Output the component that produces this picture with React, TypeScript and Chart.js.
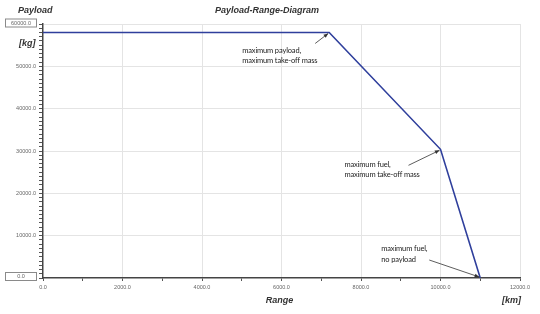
import React, { useEffect, useRef } from "react";
import { Chart, registerables } from "chart.js";

Chart.register(...registerables);

// Data
const rangeKm = [0, 7200, 10000, 11000];
const payloadKg = [58000, 58000, 30400, 0];

const xTickStep = 1000;
const xLabelStep = 2000;
const yTickStep = 1000;
const yLabelStep = 10000;
const xMax = 12000;
const yMax = 60000;

const chartTitle = "Payload-Range-Diagram";
const yTitle = "Payload";
const yUnit = "[kg]";
const xTitle = "Range";
const xUnit = "[km]";

const annotationTexts = [
  ["maximum payload,", "maximum take-off mass"],
  ["maximum fuel,", "maximum take-off mass"],
  ["maximum fuel,", "no payload"],
];
// index of the data point each annotation points to
const annotationPoints = [1, 2, 3];

// layout of the annotations relative to the anchor point (pixels)
const annotationLayout = [
  { tx: -87, ty: 18, ax: -14, ay: 11 },
  { tx: -96, ty: 15, ax: -32, ay: 16 },
  { tx: -99, ty: -29, ax: -51, ay: -18 },
];

const overlayPlugin = {
  id: "overlay",
  afterDraw(chart: any) {
    const { ctx, chartArea, scales } = chart;
    const xs = scales.x;
    const ys = scales.y;
    ctx.save();
    // titles
    ctx.fillStyle = "#333";
    ctx.font = "bold italic 9px 'Liberation Sans', Arial, sans-serif";
    ctx.textBaseline = "middle";
    ctx.textAlign = "left";
    ctx.fillText(yTitle, 18, 10.5);
    ctx.fillText(yUnit, 19, 43.5);
    ctx.textAlign = "center";
    ctx.fillText(chartTitle, 267, 11);
    ctx.fillText(xTitle, (chartArea.left + chartArea.right) / 2 - 2, 300.5);
    ctx.textAlign = "right";
    ctx.fillText(xUnit, chartArea.right + 1, 300.5);

    // boxed end labels on the y axis
    const boxes = [yMax, 0];
    ctx.font = "5.5px 'Liberation Sans', Arial, sans-serif";
    boxes.forEach((v, i) => {
      const py = ys.getPixelForValue(v) + (i === 0 ? -1.5 : -2);
      ctx.fillStyle = "#fff";
      ctx.fillRect(5.5, py - 3.5, 31, 8);
      ctx.strokeStyle = "#8a8a8a";
      ctx.lineWidth = 1;
      ctx.strokeRect(5.5, py - 3.5, 31, 8);
      ctx.fillStyle = "#666";
      ctx.textAlign = "center";
      ctx.fillText(v.toFixed(1), 21, py + 0.5);
    });

    // annotations
    ctx.font = "7.5px Lato, 'Open Sans', sans-serif";
    try {
      (ctx as any).letterSpacing = "-0.15px";
    } catch (e) {}
    annotationTexts.forEach((lines, i) => {
      const idx = annotationPoints[i];
      const px = xs.getPixelForValue(rangeKm[idx]);
      const py = ys.getPixelForValue(payloadKg[idx]);
      const L = annotationLayout[i];
      ctx.fillStyle = "#222";
      ctx.textAlign = "left";
      ctx.textBaseline = "middle";
      lines.forEach((t, j) => ctx.fillText(t, px + L.tx, py + L.ty + j * 10.5));
      // arrow
      const sx = px + L.ax;
      const sy = py + L.ay;
      const ex = px - 1;
      const ey = py + (L.ay > 0 ? 1 : -1);
      ctx.strokeStyle = "#333";
      ctx.lineWidth = 0.8;
      ctx.beginPath();
      ctx.moveTo(sx, sy);
      ctx.lineTo(ex, ey);
      ctx.stroke();
      const ang = Math.atan2(ey - sy, ex - sx);
      const hl = 5;
      const hw = 0.4;
      ctx.fillStyle = "#333";
      ctx.beginPath();
      ctx.moveTo(ex, ey);
      ctx.lineTo(ex - hl * Math.cos(ang - hw), ey - hl * Math.sin(ang - hw));
      ctx.lineTo(ex - hl * Math.cos(ang + hw), ey - hl * Math.sin(ang + hw));
      ctx.closePath();
      ctx.fill();
    });
    ctx.restore();
  },
};

export default function App() {
  const ref = useRef<HTMLCanvasElement | null>(null);
  useEffect(() => {
    document.body.style.margin = "0";
    const canvas = ref.current!;
    const chart = new Chart(canvas, {
      type: "scatter",
      data: {
        datasets: [
          {
            data: rangeKm.map((x, i) => ({ x, y: payloadKg[i] })),
            showLine: true,
            borderColor: "#2f3f9c",
            borderWidth: 1.6,
            pointRadius: 0,
            fill: false,
          },
        ],
      },
      options: {
        animation: false,
        responsive: false,
        devicePixelRatio: 1,
        layout: { padding: { top: 24, right: 20, left: 0, bottom: 0 } },
        plugins: {
          legend: { display: false },
          tooltip: { enabled: false },
          title: { display: false },
        },
        scales: {
          x: {
            type: "linear",
            min: 0,
            max: xMax,
            afterFit: (s: any) => {
              s.height = 36;
            },
            border: { color: "#444", width: 1.5 },
            grid: {
              color: (c: any) =>
                c.tick && c.tick.value % xLabelStep === 0 && c.tick.value !== 0 ? "#e4e4e4" : "rgba(0,0,0,0)",
              tickColor: "#555",
              tickLength: 3,
              lineWidth: 1,
            },
            ticks: {
              stepSize: xTickStep,
              autoSkip: false,
              maxRotation: 0,
              padding: 3,
              color: "#666",
              font: { size: 5.5, family: "'Liberation Sans', Arial, sans-serif" },
              callback: (v: any) => (Number(v) % xLabelStep === 0 ? Number(v).toFixed(1) : ""),
            },
          },
          y: {
            type: "linear",
            min: 0,
            max: yMax,
            afterFit: (s: any) => {
              s.width = 43;
            },
            border: { color: "#444", width: 1.5 },
            grid: {
              color: (c: any) =>
                c.tick && c.tick.value % yLabelStep === 0 && c.tick.value !== 0 ? "#e4e4e4" : "rgba(0,0,0,0)",
              tickColor: "#555",
              tickLength: 4,
              lineWidth: 1,
            },
            ticks: {
              stepSize: yTickStep,
              autoSkip: false,
              padding: 3,
              color: "#666",
              font: { size: 5.5, family: "'Liberation Sans', Arial, sans-serif" },
              callback: (v: any) => {
                const n = Number(v);
                if (n === 0 || n === yMax) return "";
                return n % yLabelStep === 0 ? n.toFixed(1) : "";
              },
            },
          },
        },
      },
      plugins: [overlayPlugin],
    });
    return () => chart.destroy();
  }, []);
  return (
    <div style={{ width: 540, height: 314, background: "#fff" }}>
      <canvas ref={ref} width={540} height={314} style={{ display: "block" }} />
    </div>
  );
}
